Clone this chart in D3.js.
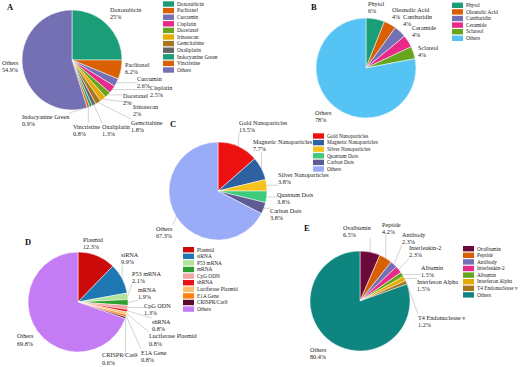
<!DOCTYPE html>
<html><head><meta charset="utf-8">
<script src="https://cdn.jsdelivr.net/npm/d3@7"></script>
<style>body{margin:0;background:#fff}svg{display:block}text{font-family:"Liberation Serif","Times New Roman",serif}</style>
</head><body>
<svg id="c" width="520" height="367"></svg>
<script>
// ---- data ----
const catA = ["Doxorubicin","Paclitaxel","Curcumin","Cisplatin","Docetaxel","Irinotecan","Gemcitabine","Oxaliplatin","Indocyanine Green","Vincristine","Others"];
const valA = [25,6.2,2.6,2.5,2,2,1.8,1.3,0.9,0.8,54.9];
const colA = ["#1b9e77","#d95f02","#7570b3","#e7298a","#66a61e","#e6ab02","#a6761d","#666666","#1b9e77","#d95f02","#7570b3"];

const catB = ["Phytol","Oleanolic Acid","Cantharidin","Ceramide","Sclareol","Others"];
const valB = [6,4,4,4,4,78];
const colB = ["#1b9e77","#d95f02","#7570b3","#e7298a","#66a61e","#55c3f3"];

const catC = ["Gold Nanoparticles","Magnetic Nanoparticles","Silver Nanoparticles","Quantum Dots","Carbon Dots","Others"];
const valC = [13.5,7.7,3.8,3.8,3.8,67.3];
const colC = ["#ee1111","#2e61a0","#f7c21b","#3ecb7b","#5e5b92","#9aabf7"];

const catD = ["Plasmid","siRNA","P53 mRNA","mRNA","CpG ODN","shRNA","Luciferase Plasmid","E1A Gene","CRISPR/Cas9","Others"];
const valD = [12.3,9.9,2.1,1.9,1.3,0.8,0.8,0.8,0.6,69.8];
const colD = ["#cc0a0a","#1f77b4","#b3e29d","#2ca02c","#f5a3a3","#e8141c","#fdbf6f","#ff8010","#5c0a2b","#c47cf5"];

const catE = ["Ovalbumin","Peptide","Antibody","Interleukin-2","Albumin","Interferon Alpha","T4 Endonuclease v","Others"];
const valE = [6.5,4.2,2.3,2.3,1.5,1.5,1.2,80.4];
const colE = ["#6b0a3a","#d95f02","#7570b3","#e7298a","#66a61e","#e6ab02","#a6761d","#0f8580"];

// ---- layout (positions only) ----
const layout = [
 {id:"A", cat:catA, val:valA, col:colA, cx:72, cy:60, r:50, tag:[7,9.5], leg:[163,4],
  lab:[[110,11.5],[125,67],[137,81],[150,90],[123,98],[133,109],[131,125],[102,129],[22,119],[73,129],[2,65]]},
 {id:"B", cat:catB, val:valB, col:colB, cx:366, cy:68, r:50, tag:[311,9.5], leg:[452,5.3],
  lab:[[368,6],[392,12],[403,18.5],[412,30],[418,50],[315,115]]},
 {id:"C", cat:catC, val:valC, col:colC, cx:218, cy:191, r:49, tag:[170,127], leg:[313,136],
  lab:[[239,124.5],[253,144],[278,177],[277,197],[270,213],[156,231]]},
 {id:"D", cat:catD, val:valD, col:colD, cx:78, cy:302, r:50, tag:[25,245], leg:[183,249.7],
  lab:[[83,242],[121,256.7],[132,275.7],[138,292],[144,307.7],[152,324],[149,338.3],[141,355],[102,357.3],[17,338.3]]},
 {id:"E", cat:catE, val:valE, col:colE, cx:360, cy:301, r:50, tag:[304,231], leg:[463,248.7],
  lab:[[343,230],[382,226.7],[402,236.7],[409,250],[421,270],[417,284],[418,320],[310,351.7]]}
];

const svg = d3.select("#c");
const pie = d3.pie().sort(null).value(d => d);
const LH = 7.2;

layout.forEach(p => {
  const g = svg.append("g");
  const arcs = pie(p.val);
  const arc = d3.arc().innerRadius(0).outerRadius(p.r);
  const pg = g.append("g").attr("transform", `translate(${p.cx},${p.cy})`);
  pg.selectAll("path").data(arcs).join("path")
    .attr("d", arc).attr("fill", (d,i) => p.col[i])
    .attr("stroke", "#fff").attr("stroke-width", 0.5);

  // labels
  arcs.forEach((a, i) => {
    const [lx, ly] = p.lab[i];
    const t = g.append("text").attr("x", lx).attr("y", ly).attr("font-size", 6.2).attr("fill", "#222");
    t.append("tspan").attr("x", lx).text(p.cat[i]);
    t.append("tspan").attr("x", lx).attr("dy", LH).text(p.val[i] + "%");
    const bb = t.node().getBBox();
    const m = (a.startAngle + a.endAngle) / 2;
    const px = p.cx + Math.sin(m) * p.r, py = p.cy - Math.cos(m) * p.r;
    const qx = Math.max(bb.x, Math.min(px, bb.x + bb.width));
    const qy = Math.max(bb.y, Math.min(py, bb.y + bb.height));
    if (Math.hypot(qx - px, qy - py) > 6) {
      g.insert("line", "text").attr("x1", px).attr("y1", py).attr("x2", qx).attr("y2", qy)
        .attr("stroke", "#a6a6a6").attr("stroke-width", 0.5);
    }
  });

  // legend
  const lg = g.append("g").attr("transform", `translate(${p.leg[0]},${p.leg[1]})`);
  const ly = d3.scaleBand().domain(p.cat).range([0, p.cat.length * 6.6]);
  p.cat.forEach((c, i) => {
    const y = ly(c);
    lg.append("rect").attr("x", 0).attr("y", y - 2.7).attr("width", 11).attr("height", 5.4).attr("fill", p.col[i]);
    lg.append("text").attr("x", 14).attr("y", y + 1.8).attr("font-size", 5.3).attr("fill", "#222").text(c);
  });

  // panel tag
  g.append("text").attr("x", p.tag[0]).attr("y", p.tag[1]).attr("font-size", 8.5)
    .attr("font-weight", "bold").attr("fill", "#111").text(p.id);
});
</script>
</body></html>
